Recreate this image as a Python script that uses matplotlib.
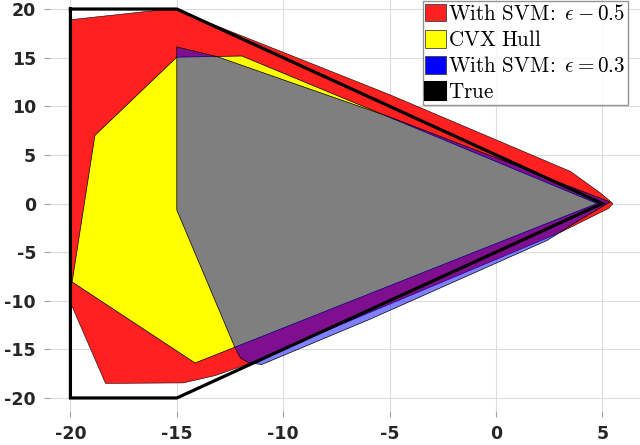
import matplotlib
matplotlib.use("Agg")
import matplotlib.pyplot as plt
from matplotlib.patches import Patch

# ---- data ----
true_x = [-20, -15, 5, -15, -20]
true_y = [20, 20, 0, -20, -20]

svm05_x = [-20, -15.8, -15, -5, 3.5, 4.9, 5.5, 5.3, 3.0, -11.9, -13.2, -14.7, -18.35, -20]
svm05_y = [18.9, 19.9, 19.9, 11.2, 3.3, 1.1, 0.0, -0.5, -3.0, -16.7, -17.7, -18.45, -18.5, -10.2]

cvx_x = [-15, -11.94, 4.75, -14.14, -19.92, -18.85]
cvx_y = [15.05, 15.17, 0.0, -16.4, -8.07, 7.0]

svm03_x = [-15, -13.1, -5, 0, 5.36, 4.0, 2.4, -5.92, -11.0, -11.6, -12.0, -12.25, -15]
svm03_y = [16.1, 15.1, 8.9, 4.7, 0.15, -1.6, -3.8, -11.9, -16.55, -16.4, -15.9, -14.9, -0.67]

labels = [r'$\mathrm{With\ SVM\!:}\ \epsilon - 0.5$', r'$\mathrm{CVX\ Hull}$',
          r'$\mathrm{With\ SVM\!:}\ \epsilon = 0.3$', r'$\mathrm{True}$']
xticks = [-20, -15, -10, -5, 0, 5]
yticks = [-20, -15, -10, -5, 0, 5, 10, 15, 20]

plt.rcParams['mathtext.fontset'] = 'cm'
plt.rcParams['axes.unicode_minus'] = False

fig = plt.figure(figsize=(6.4, 4.45), dpi=100)
ax = fig.add_axes([50/640, 34/445, 590/640, 411/445])

red = '#ff2020'
ax.fill(svm05_x, svm05_y, facecolor=red, edgecolor='black', lw=0.4, zorder=2)
ax.fill(cvx_x, cvx_y, facecolor='#ffff00', edgecolor='black', lw=0.5, zorder=3)
ax.fill(svm03_x, svm03_y, facecolor=(0, 0, 1, 0.5), edgecolor='black', lw=0.5, zorder=4)
ax.plot(true_x + true_x[:1], true_y + true_y[:1], color='black', lw=2.3, zorder=5,
        solid_joinstyle='miter')

ax.set_xlim(-20.96, 6.77)
ax.set_ylim(-21.34, 20.93)
ax.set_xticks(xticks)
ax.set_yticks(yticks)
ax.set_xticklabels([str(t) for t in xticks])
ax.set_yticklabels([str(t) for t in yticks])
for s in ax.spines.values():
    s.set_visible(False)
ax.grid(True, color='#dcdcdc', lw=0.8)
ax.set_axisbelow(True)
ax.tick_params(direction='out', length=4, width=0.8, color='#a0a0a0', pad=6,
               labelsize=12.5, labelcolor='#262626')
for lab in ax.get_xticklabels() + ax.get_yticklabels():
    lab.set_fontweight('bold')

handles = [Patch(facecolor=red, edgecolor='#404040', lw=0.6),
           Patch(facecolor='#ffff00', edgecolor='#404040', lw=0.6),
           Patch(facecolor='#0000ff', edgecolor='#404040', lw=0.6),
           Patch(facecolor='black', edgecolor='black', lw=1.5)]
leg = fig.legend(handles, labels, loc='lower right',
                 bbox_to_anchor=(628/640, (445-105)/445), bbox_transform=fig.transFigure,
                 fontsize=15.2, frameon=True, fancybox=False, borderpad=0.12,
                 handlelength=0.97, handleheight=0.9, handletextpad=0.12,
                 labelspacing=0.29, borderaxespad=0)
leg.get_frame().set_edgecolor('#7a7a7a')
leg.get_frame().set_linewidth(1.0)

fig.savefig('out.png', dpi=100)
